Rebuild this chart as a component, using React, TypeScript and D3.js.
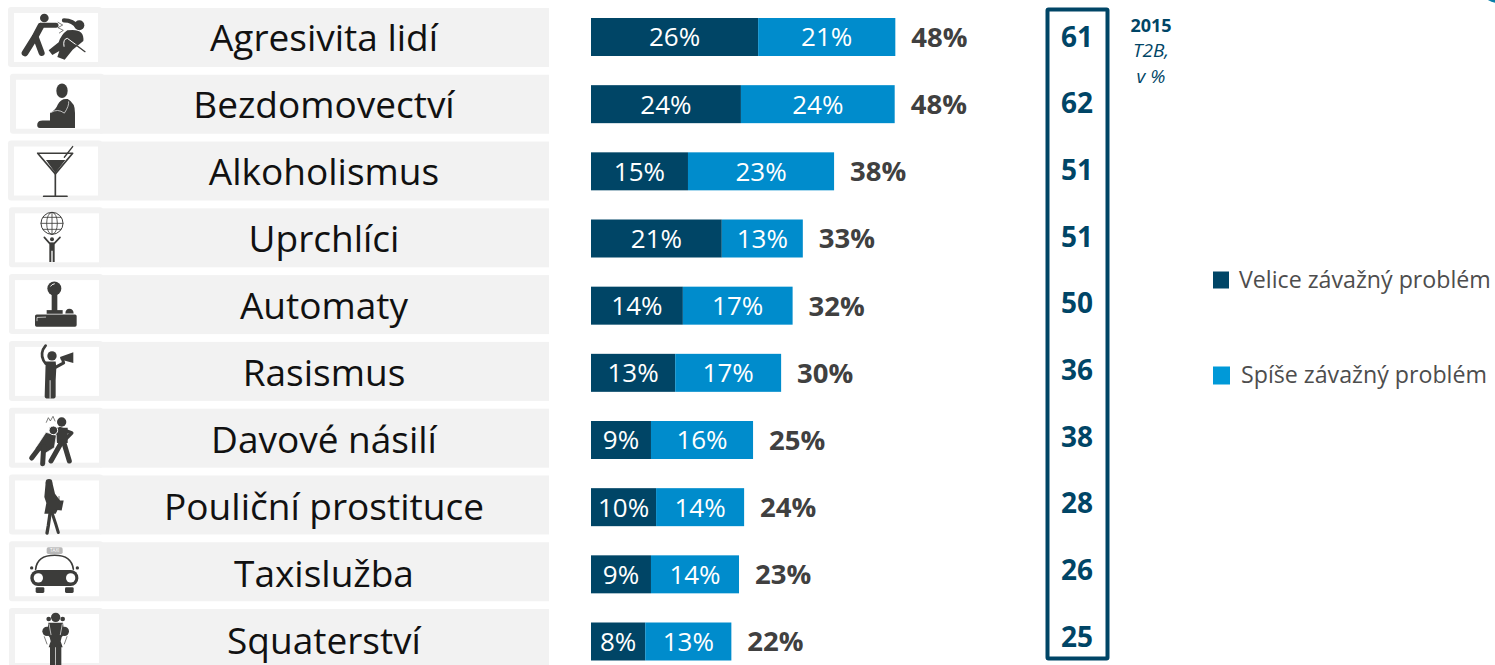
import React, { useEffect, useRef } from "react";
import * as d3 from "d3";

const categories = ["Agresivita lidí", "Bezdomovectví", "Alkoholismus", "Uprchlíci", "Automaty", "Rasismus", "Davové násilí", "Pouliční prostituce", "Taxislužba", "Squaterství"];
const verySerious = [26.2, 23.5, 15.2, 20.5, 14.4, 13.2, 9.4, 10.2, 9.4, 8.5];
const ratherSerious = [21.5, 24.1, 22.9, 12.7, 17.2, 16.6, 16.0, 13.8, 13.8, 13.5];
const veryLabels = ["26%", "24%", "15%", "21%", "14%", "13%", "9%", "10%", "9%", "8%"];
const ratherLabels = ["21%", "24%", "23%", "13%", "17%", "17%", "16%", "14%", "14%", "13%"];
const totalLabels = ["48%", "48%", "38%", "33%", "32%", "30%", "25%", "24%", "23%", "22%"];
const values2015 = [61, 62, 51, 51, 50, 36, 38, 28, 26, 25];
const legendLabels = ["Velice závažný problém", "Spíše závažný problém"];
// small left/right wobble of the pasted row backgrounds
const rowOffsets = [-2, 0, -2, -1, -1, -1, -1, -1, -1, -1];

const DARK = "#004566";
const LIGHT = "#008ccc";
const ICON = "#3c3c3a";
const FONT = "'Open Sans', sans-serif";

type G = d3.Selection<SVGGElement, unknown, null, undefined>;

// icons are drawn in a 3x grid, box origin top left
const line = (g: G, d: string, w: number) =>
  g.append("path").attr("d", d).attr("fill", "none").attr("stroke", ICON).attr("stroke-width", w).attr("stroke-linecap", "round").attr("stroke-linejoin", "round");
const blob = (g: G, d: string, fill = ICON) => g.append("path").attr("d", d).attr("fill", fill);
const dot = (g: G, x: number, y: number, r: number, fill = ICON) =>
  g.append("circle").attr("cx", x).attr("cy", y).attr("r", r).attr("fill", fill);

const icons: ((g: G) => void)[] = [
  (g) => {
    dot(g, 91, 15, 13);
    line(g, "M80 40 L63 72 L33 120", 20);
    line(g, "M65 72 L83 120", 18);
    line(g, "M80 37 L126 37", 15);
    line(g, "M132 28 L146 36 L132 44 L148 52 L136 60", 2);
    dot(g, 196, 37, 15);
    blob(g, "M160 52 Q212 44 208 84 L176 110 L152 140 L130 132 L136 114 L115 126 L104 112 L134 88 Q142 64 160 52 Z");
    line(g, "M150 22 Q178 22 190 42", 13);
    line(g, "M150 100 Q146 78 160 76 L190 98", 3).attr("stroke", "#fff");
    line(g, "M186 96 L213 116", 4);
  },
  (g) => {
    g.append("ellipse").attr("cx", 138).attr("cy", 33).attr("rx", 17).attr("ry", 22).attr("fill", ICON);
    blob(g, "M72 145 Q62 145 64 132 Q66 122 80 122 L102 122 L102 100 Q120 90 125 75 Q135 55 155 58 Q178 70 177 100 L177 145 Z");
    line(g, "M105 98 Q125 85 145 100 Q160 78 158 66", 2).attr("stroke", "#fff");
  },
  (g) => {
    line(g, "M71 20 L176 20 L124 82 Z", 5);
    blob(g, "M96 40 L154 40 L124 79 Z");
    line(g, "M124 82 L124 148", 5);
    line(g, "M89 149 L159 149", 5);
    line(g, "M151 32 L176 0", 4);
  },
  (g) => {
    g.append("circle").attr("cx", 111).attr("cy", 30).attr("r", 33).attr("fill", "none").attr("stroke", ICON).attr("stroke-width", 3);
    g.append("ellipse").attr("cx", 111).attr("cy", 30).attr("rx", 16).attr("ry", 33).attr("fill", "none").attr("stroke", ICON).attr("stroke-width", 2.5);
    line(g, "M111 -3 L111 63 M78 30 L144 30 M84 12 L138 12 M84 48 L138 48", 2.5);
    dot(g, 111, 78, 6);
    line(g, "M88 72 L104 90 L118 90 L135 72", 5);
    blob(g, "M103 88 L119 88 L119 146 L113 146 L113 112 L109 112 L109 146 L103 146 Z");
  },
  (g) => {
    dot(g, 118, 25, 21);
    line(g, "M107 18 Q110 12 118 11", 3).attr("stroke", "#fff");
    g.append("rect").attr("x", 110).attr("y", 40).attr("width", 17).attr("height", 55).attr("fill", ICON);
    g.append("rect").attr("x", 95).attr("y", 90).attr("width", 48).attr("height", 11).attr("fill", ICON);
    blob(g, "M151 100 Q152 86 163 86 Q175 86 176 100 Z");
    g.append("rect").attr("x", 60).attr("y", 103).attr("width", 125).attr("height", 37).attr("rx", 5).attr("fill", ICON);
    line(g, "M66 122 L66 112 L92 111", 2).attr("stroke", "#fff");
  },
  (g) => {
    dot(g, 111, 27, 14);
    blob(g, "M92 44 L122 44 L124 62 L122 100 L122 148 Q122 155 113 155 L98 155 Q89 155 89 148 Z");
    line(g, "M92 50 Q75 30 84 8 L92 -4", 8);
    line(g, "M120 62 L146 48 L142 35", 9);
    blob(g, "M135 30 L175 16 L175 48 L137 38 Z");
    g.append("rect").attr("x", 104).attr("y", 100).attr("width", 2.5).attr("height", 55).attr("fill", "#fff");
  },
  (g) => {
    // front figure
    line(g, "M135 45 L170 58 L150 78", 11);
    blob(g, "M122 42 L158 42 L158 88 L126 88 Z");
    line(g, "M140 85 L108 142", 15);
    line(g, "M146 85 L163 142", 15);
    dot(g, 140, 25, 14);
    // back figure
    blob(g, "M93 56 L124 65 L118 102 L92 118 L60 106 Z").attr("stroke", "#fff").attr("stroke-width", 2);
    line(g, "M75 100 L50 133", 15);
    line(g, "M86 100 L83 150", 15);
    dot(g, 115, 50, 13).attr("stroke", "#fff").attr("stroke-width", 3);
    line(g, "M94 26 L100 12 L106 22 L114 8 L120 22", 2);
  },
  (g) => {
    dot(g, 102, 6, 10);
    blob(g, "M92 6 L112 6 L120 40 L135 60 L132 70 L128 88 L122 100 L88 100 L94 68 L88 50 Z");
    blob(g, "M120 60 L146 60 L140 90 L120 88 Z");
    line(g, "M122 48 L122 60 M132 48 L132 60", 2);
    line(g, "M105 100 L100 135 L96 158", 10);
    line(g, "M112 100 L122 130 L130 156", 9);
  },
  (g) => {
    g.append("rect").attr("x", 95).attr("y", 0).attr("width", 48).attr("height", 20).attr("rx", 5).attr("fill", "#b8b8b8");
    g.append("text").attr("x", 119).attr("y", 15).attr("text-anchor", "middle").attr("font-family", FONT).attr("font-size", 14).attr("fill", "#fff").text("TAXI");
    line(g, "M62 66 Q66 24 119 24 Q170 24 175 66", 5);
    g.append("rect").attr("x", 46).attr("y", 68).attr("width", 144).attr("height", 48).attr("rx", 23).attr("fill", ICON);
    dot(g, 70, 92, 14, "#fff");
    dot(g, 167, 92, 14, "#fff");
    g.append("rect").attr("x", 62).attr("y", 120).attr("width", 26).attr("height", 17).attr("rx", 4).attr("fill", ICON);
    g.append("rect").attr("x", 150).attr("y", 120).attr("width", 26).attr("height", 17).attr("rx", 4).attr("fill", ICON);
    dot(g, 50, 62, 5);
    dot(g, 187, 62, 5);
  },
  (g) => {
    dot(g, 122, 10, 14);
    dot(g, 101, 15, 7);
    dot(g, 143, 15, 7);
    dot(g, 96, 52, 14);
    dot(g, 148, 52, 14);
    blob(g, "M100 26 L144 26 L148 60 L140 70 L137 82 L143 100 L101 100 L107 82 L104 70 L96 60 Z");
    line(g, "M102 30 L108 62 M142 30 L136 62", 2).attr("stroke", "#fff");
    line(g, "M88 68 L96 90 M156 68 L148 90", 2);
    g.append("rect").attr("x", 105).attr("y", 92).attr("width", 16).attr("height", 66).attr("rx", 6).attr("fill", ICON);
    g.append("rect").attr("x", 123).attr("y", 92).attr("width", 16).attr("height", 66).attr("rx", 6).attr("fill", ICON);
  },
];

const App = () => {
  const ref = useRef<SVGSVGElement>(null);

  useEffect(() => {
    const svg = d3.select(ref.current!);
    svg.selectAll("*").remove();

    // the source slide is pasted together, so each column has its own row pitch
    const yRow = d3.scalePoint<string>().domain(categories).range([37.5, 638.5]);
    const yText = d3.scalePoint<string>().domain(categories).range([38, 641]);
    const yBar = d3.scalePoint<string>().domain(categories).range([37, 641.5]);
    const yCol = d3.scalePoint<string>().domain(categories).range([36.5, 636.5]);
    const x = d3.scaleLinear().domain([0, 100]).range([591, 1229]);

    const rows = svg.selectAll("g.row").data(categories).enter().append("g").attr("class", "row")
      .attr("transform", (d) => `translate(0,${yRow(d)})`);

    // grey row background with the white icon box
    rows.append("rect").attr("x", 100).attr("y", -29.5).attr("width", 449).attr("height", 59).attr("fill", "#f2f2f2");
    rows.append("rect").attr("x", (d, i) => 10 + rowOffsets[i]).attr("y", -30.5).attr("width", 94).attr("height", 60).attr("rx", 3).attr("fill", "#f2f2f2");
    rows.append("rect").attr("x", (d, i) => 16 + rowOffsets[i]).attr("y", -24.5).attr("width", 84).attr("height", 49).attr("fill", "#fff");
    rows.each(function (d, i) {
      const g = d3.select(this as SVGGElement).append("g")
        .attr("transform", `translate(${16 + rowOffsets[i]},-24.5) scale(${1 / 3})`) as unknown as G;
      icons[i](g);
    });

    svg.selectAll("text.cat").data(categories).enter().append("text").attr("class", "cat")
      .attr("x", 324).attr("y", (d) => yText(d)!).attr("dy", "0.36em").attr("text-anchor", "middle")
      .attr("font-family", FONT).attr("font-size", 37).attr("fill", "#111").text((d) => d);

    const barH = 38;
    const bars = svg.selectAll("g.bar").data(categories).enter().append("g").attr("class", "bar")
      .attr("transform", (d) => `translate(0,${yBar(d)})`);
    bars.append("rect").attr("x", x(0)).attr("y", -barH / 2).attr("height", barH)
      .attr("width", (d, i) => x(verySerious[i]) - x(0)).attr("fill", DARK);
    bars.append("rect").attr("x", (d, i) => x(verySerious[i])).attr("y", -barH / 2).attr("height", barH)
      .attr("width", (d, i) => x(ratherSerious[i]) - x(0)).attr("fill", LIGHT);

    bars.append("text").attr("x", (d, i) => x(verySerious[i] / 2)).attr("dy", "0.36em").attr("text-anchor", "middle")
      .attr("font-family", FONT).attr("font-size", 26).attr("fill", "#fff").text((d, i) => veryLabels[i]);
    bars.append("text").attr("x", (d, i) => x(verySerious[i] + ratherSerious[i] / 2)).attr("dy", "0.36em").attr("text-anchor", "middle")
      .attr("font-family", FONT).attr("font-size", 26).attr("fill", "#fff").text((d, i) => ratherLabels[i]);
    bars.append("text").attr("x", (d, i) => x(verySerious[i] + ratherSerious[i]) + 16).attr("dy", "0.36em")
      .attr("font-family", FONT).attr("font-size", 27.5).attr("font-weight", 700).attr("fill", "#404040").text((d, i) => totalLabels[i]);

    svg.selectAll("text.col").data(categories).enter().append("text").attr("class", "col")
      .attr("x", 1077).attr("y", (d) => yCol(d)!).attr("dy", "0.36em").attr("text-anchor", "middle")
      .attr("font-family", FONT).attr("font-size", 28).attr("font-weight", 700).attr("fill", DARK).text((d, i) => values2015[i]);

    // box around the 2015 column
    svg.append("rect").attr("x", 1047.5).attr("y", 9.5).attr("width", 60).attr("height", 649).attr("rx", 1)
      .attr("fill", "none").attr("stroke", DARK).attr("stroke-width", 4);

    svg.append("text").attr("x", 1151).attr("y", 32).attr("text-anchor", "middle").attr("font-family", FONT)
      .attr("font-size", 18).attr("font-weight", 700).attr("fill", DARK).text("2015");
    svg.append("text").attr("x", 1151).attr("y", 57).attr("text-anchor", "middle").attr("font-family", FONT)
      .attr("font-size", 19).attr("font-style", "italic").attr("fill", DARK).text("T2B,");
    svg.append("text").attr("x", 1151).attr("y", 83).attr("text-anchor", "middle").attr("font-family", FONT)
      .attr("font-size", 19).attr("font-style", "italic").attr("fill", DARK).text("v %");

    // legend
    const legend = svg.selectAll("g.legend").data(legendLabels).enter().append("g").attr("class", "legend")
      .attr("transform", (d, i) => `translate(1213,${i === 0 ? 280 : 375})`);
    legend.append("rect").attr("y", -8.5).attr("width", (d, i) => (i === 0 ? 16 : 17)).attr("height", (d, i) => (i === 0 ? 17 : 18))
      .attr("fill", (d, i) => (i === 0 ? DARK : "#0099d8"));
    legend.append("text").attr("x", (d, i) => (i === 0 ? 26 : 28)).attr("dy", "0.36em")
      .attr("font-family", FONT).attr("font-size", 23.2).attr("fill", "#4d4d4d").text((d) => d);

    // piece of a logo cut off at the top right corner
    svg.append("ellipse").attr("cx", 1510).attr("cy", -32).attr("rx", 44).attr("ry", 37).attr("fill", "#0b7fa8");
  }, []);

  return <svg ref={ref} width={1495} height={665} style={{ position: "absolute", left: 0, top: 0, background: "#fff" }} />;
};

export default App;
